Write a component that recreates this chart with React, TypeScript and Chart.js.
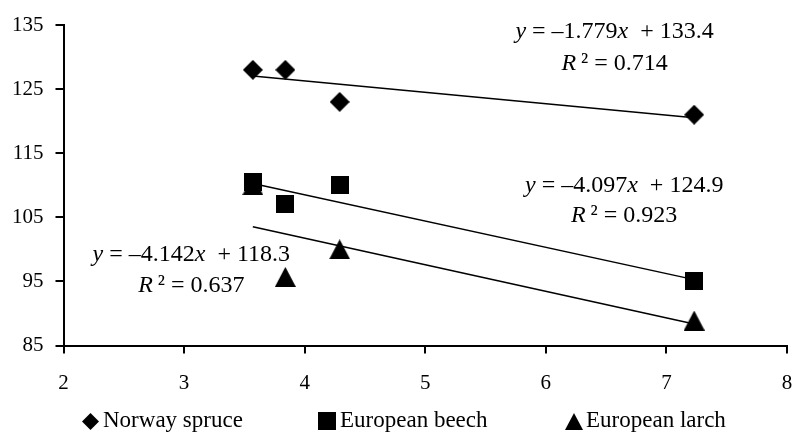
import { useEffect, useRef } from "react";
import { Chart, registerables } from "chart.js";

Chart.register(...registerables);

// ---- data ----
const xValues = [3.57, 3.84, 4.29, 7.23];
const spruceValues = [128, 128, 123, 121];
const beechValues = [110.5, 107, 110, 95];
const larchValues = [110, 95.7, 100, 88.9];
const seriesNames = ["Norway spruce", "European beech", "European larch"];
const slopes = [-1.779, -4.097, -4.142];
const intercepts = [133.4, 124.9, 118.3];
const slopeLabels = ["–1.779", "–4.097", "–4.142"];
const interceptLabels = ["133.4", "124.9", "118.3"];
const rSquaredLabels = ["0.714", "0.923", "0.637"];
const trendRange = [3.57, 7.23];
const xRange = [2, 8];
const yRange = [85, 135];

const FONT = '"Liberation Serif", "Times New Roman", serif';

function makeMarker(shape: string, w: number, h: number) {
  const c = document.createElement("canvas");
  c.width = w;
  c.height = h;
  const ctx = c.getContext("2d")!;
  ctx.fillStyle = "#000";
  ctx.beginPath();
  if (shape === "diamond") {
    ctx.moveTo(w / 2, 0);
    ctx.lineTo(w, h / 2);
    ctx.lineTo(w / 2, h);
    ctx.lineTo(0, h / 2);
  } else if (shape === "square") {
    ctx.rect(0, 0, w, h);
  } else {
    ctx.moveTo(w / 2, 0);
    ctx.lineTo(w, h);
    ctx.lineTo(0, h);
  }
  ctx.closePath();
  ctx.fill();
  return c;
}

type Seg = [string, boolean];

function drawSegments(ctx: CanvasRenderingContext2D, segs: Seg[], cx: number, cy: number, size: number) {
  let total = 0;
  const widths = segs.map(([t, it]) => {
    ctx.font = `${it ? "italic " : ""}${size}px ${FONT}`;
    const w = ctx.measureText(t).width;
    total += w;
    return w;
  });
  let x = cx - total / 2;
  ctx.textBaseline = "middle";
  ctx.textAlign = "left";
  ctx.fillStyle = "#000";
  segs.forEach(([t, it], i) => {
    ctx.font = `${it ? "italic " : ""}${size}px ${FONT}`;
    ctx.fillText(t, x, cy);
    x += widths[i];
  });
}

export default function App() {
  const ref = useRef<HTMLCanvasElement>(null);

  useEffect(() => {
    const canvas = ref.current!;
    const diamond = makeMarker("diamond", 20, 20);
    const square = makeMarker("square", 18, 18);
    const triangle = makeMarker("triangle", 21, 20);
    const legendMarkers = [
      makeMarker("diamond", 17, 17),
      makeMarker("square", 18, 18),
      makeMarker("triangle", 18, 17),
    ];

    const seriesValues = [spruceValues, beechValues, larchValues];
    const markers = [diamond, square, triangle];

    const scatterSets = seriesValues.map((vals, i) => ({
      label: seriesNames[i],
      data: xValues.map((x, j) => ({ x, y: vals[j] })),
      pointStyle: markers[i] as any,
      pointRadius: 10,
      backgroundColor: "#000",
      borderColor: "#000",
      showLine: false,
    }));

    const trendSets = slopes.map((m, i) => ({
      label: "trend" + i,
      data: trendRange.map((x) => ({ x, y: m * x + intercepts[i] })),
      showLine: true,
      pointRadius: 0,
      borderColor: "#000",
      borderWidth: 1.5,
      fill: false,
    }));

    // anchors of the equation labels (data coordinates)
    const eqAnchors = [
      { x: 6.57, y1: 134.0, y2: 129.0 },
      { x: 6.65, y1: 110.0, y2: 105.2 },
      { x: 3.06, y1: 99.1, y2: 94.3 },
    ];

    const annotations = {
      id: "annotations",
      afterDraw(chart: any) {
        const ctx = chart.ctx as CanvasRenderingContext2D;
        const xs = chart.scales.x;
        const ys = chart.scales.y;
        ctx.save();
        eqAnchors.forEach((a, i) => {
          const px = xs.getPixelForValue(a.x);
          drawSegments(
            ctx,
            [
              ["y", true],
              [" = " + slopeLabels[i], false],
              ["x", true],
              ["  + " + interceptLabels[i], false],
            ],
            px,
            ys.getPixelForValue(a.y1),
            24
          );
          drawSegments(
            ctx,
            [
              ["R", true],
              ["\u2009² = " + rSquaredLabels[i], false],
            ],
            px,
            ys.getPixelForValue(a.y2),
            24
          );
        });
        // legend
        const markerCx = [90.5, 327, 574];
        const textX = [103, 340, 586];
        const ly = 421;
        seriesNames.forEach((name, i) => {
          const m = legendMarkers[i];
          ctx.drawImage(m, Math.round(markerCx[i] - m.width / 2), Math.round(ly - m.height / 2));
          ctx.font = `23px ${FONT}`;
          ctx.textBaseline = "middle";
          ctx.textAlign = "left";
          ctx.fillStyle = "#000";
          ctx.fillText(name, textX[i], ly);
        });
        ctx.restore();
      },
    };

    const chart = new Chart(canvas, {
      type: "scatter",
      data: { datasets: [...scatterSets, ...trendSets] as any },
      options: {
        animation: false,
        responsive: false,
        events: [],
        layout: { padding: { left: 0, right: 5, top: 25, bottom: 0 } },
        plugins: {
          legend: { display: false },
          tooltip: { enabled: false },
        },
        scales: {
          x: {
            type: "linear",
            min: xRange[0],
            max: xRange[1],
            ticks: {
              stepSize: 1,
              color: "#000",
              padding: 17,
              font: { family: FONT, size: 21 },
            },
            grid: {
              drawOnChartArea: false,
              drawTicks: true,
              tickLength: 8,
              color: "#000",
              lineWidth: 2,
            },
            border: { color: "#000", width: 2 },
            afterFit: (s: any) => {
              s.height = 93.5;
              s.paddingLeft = 0;
              s.paddingRight = 0;
            },
          },
          y: {
            type: "linear",
            min: yRange[0],
            max: yRange[1],
            ticks: {
              stepSize: 10,
              color: "#000",
              padding: 12,
              font: { family: FONT, size: 21 },
            },
            grid: {
              drawOnChartArea: false,
              drawTicks: true,
              tickLength: 8,
              color: "#000",
              lineWidth: 2,
            },
            border: { color: "#000", width: 2 },
            afterFit: (s: any) => {
              s.width = 63.5;
              s.paddingTop = 0;
              s.paddingBottom = 0;
            },
          },
        },
      },
      plugins: [annotations],
    });
    return () => chart.destroy();
  }, []);

  return (
    <div style={{ position: "absolute", left: 0, top: 0, width: 798, height: 439, background: "#fff" }}>
      <canvas ref={ref} width={798} height={439} style={{ display: "block" }} />
    </div>
  );
}
